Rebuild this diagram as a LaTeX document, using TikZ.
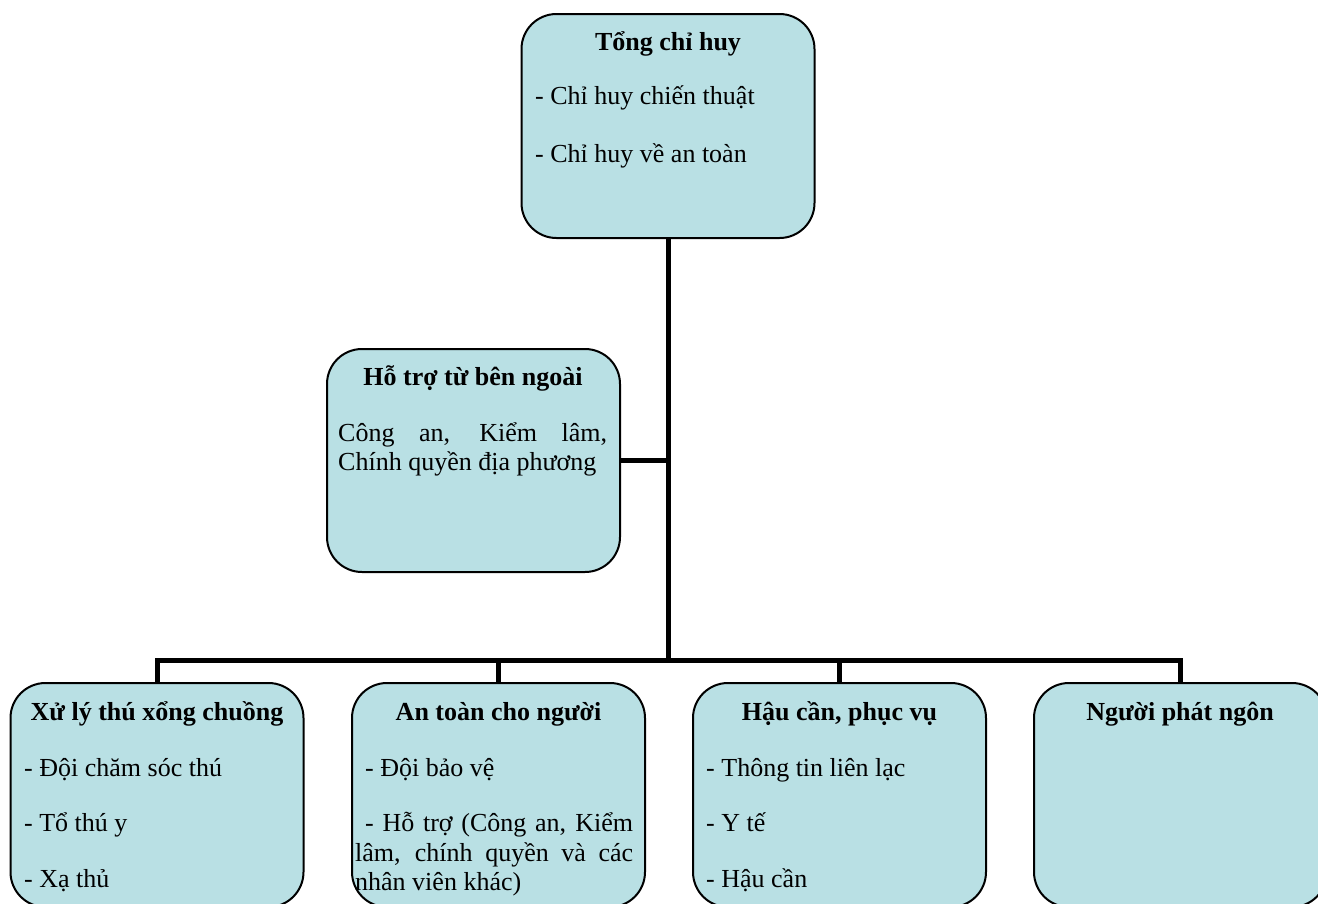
\documentclass[tikz,border=0pt]{standalone}
\usepackage{fontspec}
\setmainfont{Liberation Serif}
\definecolor{boxfill}{RGB}{185,224,228}
\begin{document}
\begin{tikzpicture}[x=1pt,y=-1pt,
  box/.style={draw=black,line width=2pt,fill=boxfill,rounded corners=35pt,inner sep=0pt,minimum width=293pt,minimum height=224pt},
  conn/.style={draw=black,line width=5pt},
  ttl/.style={anchor=base,inner sep=0pt,font=\fontsize{26}{30}\selectfont\bfseries},
  txt/.style={anchor=base west,inner sep=0pt,font=\fontsize{26}{30}\selectfont}]
\useasboundingbox (0,0) rectangle (1318,903);
\clip (0,0) rectangle (1318,903);
% boxes
\node[box] (top) at (668,126) {};
\node[box,minimum height=223pt] (mid) at (473.5,460.5) {};
\node[box] (b1) at (157,795) {};
\node[box] (b2) at (498.5,795) {};
\node[box] (b3) at (839.5,795) {};
\node[box] (b4) at (1180.5,795) {};
% connectors
\coordinate (bus) at (668,660);
\draw[conn] (top.south) -- (bus);
\draw[conn] (mid.east) -- (mid.east -| top.south);
\draw[conn] (b1.north) -- (b1.north |- bus) -- (b4.north |- bus) -- (b4.north);
\draw[conn] (b2.north) -- (b2.north |- bus);
\draw[conn] (b3.north) -- (b3.north |- bus);
% top box text
\node[ttl] (topT) at (668,50) {Tổng chỉ huy};
\node[txt] (topA) at (535,104) {- Chỉ huy chiến thuật};
\node[txt] (topB) at (535,162) {- Chỉ huy về an toàn};
% middle box text
\node[ttl] (midT) at (473,385) {Hỗ trợ từ bên ngoài};
\node[txt] (midA) at (338,441) {\makebox[269pt][s]{Công an, Kiểm lâm,}};
\node[txt] (midB) at (338,470) {Chính quyền địa phương};
% bottom box 1
\node[ttl] (b1T) at (157,720) {Xử lý thú xổng chuồng};
\node[txt] (b1A) at (24,776) {- Đội chăm sóc thú};
\node[txt] (b1B) at (24,831) {- Tổ thú y};
\node[txt] (b1C) at (24,887) {- Xạ thủ};
% bottom box 2
\node[ttl] (b2T) at (498.5,720) {An toàn cho người};
\node[txt] (b2A) at (365,776) {- Đội bảo vệ};
\node[txt] (b2B) at (365,831) {\makebox[268pt][s]{- Hỗ trợ (Công an, Kiểm}};
\node[txt] (b2C) at (355,861) {\makebox[278pt][s]{lâm, chính quyền và các}};
\node[txt] (b2D) at (355,890) {nhân viên khác)};
% bottom box 3
\node[ttl] (b3T) at (839.5,720) {Hậu cần, phục vụ};
\node[txt] (b3A) at (706,776) {- Thông tin liên lạc};
\node[txt] (b3B) at (706,831) {- Y tế};
\node[txt] (b3C) at (706,887) {- Hậu cần};
% bottom box 4
\node[ttl] (b4T) at (1180,720) {Người phát ngôn};
\end{tikzpicture}
\end{document}
